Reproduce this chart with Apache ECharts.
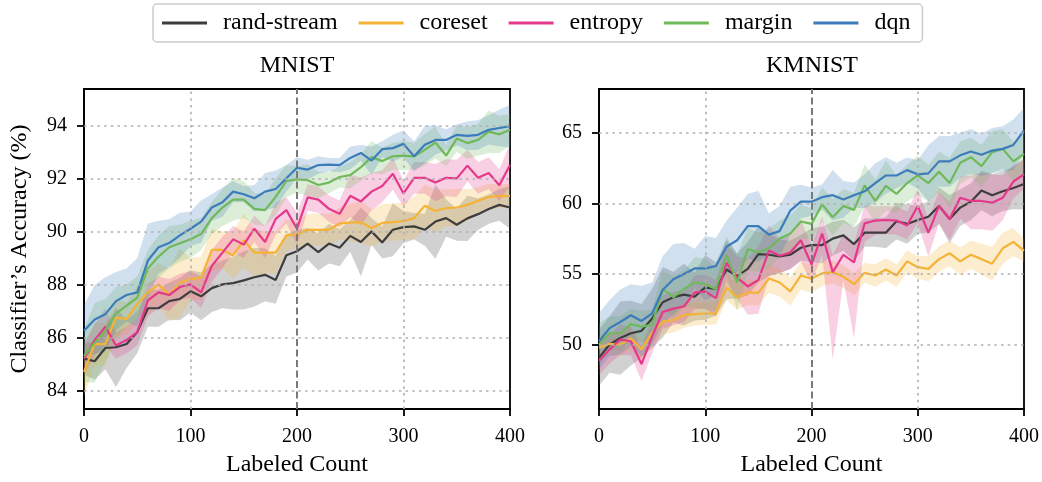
<!DOCTYPE html>
<html>
<head>
<meta charset="utf-8">
<script src="https://cdn.jsdelivr.net/npm/echarts@6/dist/echarts.min.js"></script>
<style>
  html, body { margin: 0; padding: 0; background: #fff; }
  #chart { width: 1042px; height: 482px; }
</style>
</head>
<body>
<div id="chart"></div>
<script>
// x positions (labeled count)
const labeledCount = [0,10,20,30,40,50,60,70,80,90,100,110,120,130,140,150,160,170,180,190,200,
  210,220,230,240,250,260,270,280,290,300,310,320,330,340,350,360,370,380,390,400];
const methods = ['rand-stream', 'coreset', 'entropy', 'margin', 'dqn'];
const xTicks = [0, 100, 200, 300, 400];
const mnistTicks = [84, 86, 88, 90, 92, 94];
const kmnistTicks = [50, 55, 60, 65];

// MNIST means
const mnistRand = [85.2,85.1,85.6,85.63,85.75,86.2,87.1,87.1,87.37,87.45,87.74,87.55,87.86,88.0,88.05,88.15,88.27,88.36,88.17,89.1,89.25,
  89.54,89.22,89.54,89.38,89.83,89.6,90.0,89.58,90.06,90.16,90.19,90.06,90.37,90.5,90.25,90.49,90.65,90.84,91.0,90.9];
const mnistCoreset = [84.7,85.75,85.75,86.75,86.7,87.25,87.7,88.0,87.6,88.05,88.2,88.25,89.3,89.3,89.1,89.66,89.2,89.2,89.2,89.85,89.88,
  90.06,90.06,90.06,90.3,90.33,90.35,90.13,90.32,90.35,90.39,90.5,90.97,90.77,90.88,90.9,91.0,91.15,91.3,91.33,91.34];
const mnistEntropy = [85.2,85.9,86.4,85.7,85.9,86.2,87.4,87.7,87.6,87.9,88.0,87.7,88.7,89.2,89.7,89.5,90.1,89.6,90.47,90.8,90.1,
  91.28,91.2,90.85,90.66,91.34,91.13,91.5,91.71,92.17,91.43,92.02,92.02,91.84,92.02,92.0,92.48,92.02,92.2,91.74,92.5];
const mnistMargin = [85.3,85.8,86.25,86.9,87.2,87.5,88.6,89.05,89.4,89.55,89.7,89.9,90.5,90.9,91.2,91.2,90.85,90.8,91.3,91.9,91.96,
  91.93,91.75,91.84,92.05,92.12,92.42,92.8,92.65,92.83,92.86,92.83,93.08,93.35,92.86,93.5,93.33,93.45,93.76,93.66,93.83];
const mnistDqn = [86.25,86.68,86.87,87.37,87.6,87.7,88.9,89.4,89.56,89.85,90.1,90.37,90.9,91.1,91.5,91.4,91.25,91.5,91.6,92.0,92.4,
  92.33,92.5,92.52,92.5,92.77,92.96,92.67,93.1,93.14,93.3,92.83,93.27,93.45,93.45,93.64,93.6,93.64,93.83,93.9,93.97];

// MNIST spreads
const mnistRandSd = [0.6,0.7,0.8,1.5,0.9,0.8,0.7,0.7,0.7,0.8,0.8,0.9,0.9,0.9,1.0,1.1,1.1,1.0,0.9,0.8,0.8,
  0.6,0.7,0.75,0.7,0.6,1.3,0.5,0.6,1.0,0.6,0.5,0.6,1.4,0.7,0.6,0.85,0.6,0.55,0.6,0.8];
const mnistCoresetSd = [0.9,0.8,0.8,0.7,0.6,0.7,0.8,0.8,1.0,1.3,0.8,0.8,0.8,0.7,0.9,1.0,0.9,0.8,0.8,0.6,0.5,
  0.6,0.6,0.6,0.6,0.7,0.8,0.7,0.7,0.7,0.7,0.8,0.8,0.8,0.7,0.7,0.6,0.5,0.5,0.45,0.45];
const mnistEntropySd = [0.6,0.6,0.7,0.5,0.5,0.5,0.6,0.6,0.6,0.5,0.5,0.6,0.6,0.6,0.5,0.5,0.5,0.6,0.6,0.5,0.6,
  0.5,0.5,0.5,0.5,0.8,0.9,0.7,0.6,0.6,0.5,0.6,0.6,0.7,0.7,0.7,0.6,0.6,0.6,0.6,0.8];
const mnistMarginSd = [1.0,1.5,1.2,1.0,0.8,0.8,0.7,0.8,0.8,0.7,0.7,0.6,0.6,0.7,0.8,0.7,0.6,0.6,0.7,0.6,0.5,
  0.6,0.5,0.4,0.4,0.5,0.5,0.6,0.5,0.5,0.55,0.5,0.6,0.6,0.4,0.5,0.6,0.6,0.8,0.7,0.6];
const mnistDqnSd = [0.95,1.3,1.4,1.1,1.0,1.3,1.4,1.0,0.9,0.85,0.65,0.8,0.5,0.55,0.4,0.3,0.5,0.7,0.7,0.5,0.4,
  0.37,0.33,0.25,0.27,0.43,0.3,0.53,0.3,0.5,0.5,0.57,0.7,0.55,0.4,0.4,0.54,0.56,0.55,0.7,0.8];

// KMNIST means
const kmnistRand = [49.07,50.0,50.46,50.8,50.97,51.85,53.0,53.36,53.54,53.4,54.05,53.94,55.32,54.86,55.37,56.41,56.37,56.25,56.37,56.87,57.06,
  57.06,57.52,57.75,57.13,57.94,57.94,57.94,58.75,58.56,58.84,59.07,59.84,58.91,59.72,60.14,60.93,60.6,60.88,61.11,61.39];
const kmnistCoreset = [49.77,50.05,50.0,50.42,49.65,50.8,51.62,51.74,52.08,52.15,52.2,52.2,54.05,53.36,53.7,53.66,54.68,54.4,53.77,54.9,54.68,
  55.05,55.14,54.81,54.28,55.09,54.9,55.32,54.9,55.9,55.49,55.37,56.06,56.48,55.9,56.37,56.06,55.74,56.83,57.29,56.67];
const kmnistEntropy = [48.84,49.65,50.35,50.23,48.61,50.58,52.31,52.55,52.7,53.7,53.75,53.29,55.79,54.75,54.12,54.58,56.67,56.3,56.53,57.4,55.67,
  57.87,55.14,56.37,55.83,58.6,58.8,58.84,58.8,58.45,59.84,57.92,59.84,58.91,60.42,60.19,60.19,60.07,60.42,61.57,62.08];
const kmnistMargin = [50.0,50.8,50.8,51.44,51.27,51.4,53.94,53.36,53.94,54.4,54.28,53.94,56.37,54.4,56.76,56.55,56.83,57.52,57.87,58.73,58.56,
  59.95,59.03,59.84,59.56,61.3,60.19,61.27,60.69,61.46,62.0,61.46,62.27,61.46,62.9,63.3,62.66,63.66,63.89,63.0,63.54];
const kmnistDqn = [50.23,51.16,51.6,52.08,51.67,52.2,53.89,54.63,55.0,55.4,55.4,55.56,56.94,57.4,58.4,58.4,57.8,58.05,59.5,60.14,60.14,
  60.46,60.6,60.3,60.6,60.88,61.46,62.0,62.0,62.38,62.08,62.15,63.0,63.0,63.43,63.7,63.47,63.77,63.89,64.17,65.2];

// KMNIST spreads
const kmnistRandSd = [2.0,2.0,2.6,2.3,1.9,2.1,2.5,1.8,2.2,1.7,2.3,1.9,2.1,1.6,1.9,2.0,1.5,1.2,1.0,0.9,1.2,
  1.3,1.2,1.1,1.2,1.0,1.0,1.1,1.3,1.4,1.0,1.1,1.3,1.7,1.3,1.3,1.4,1.5,1.4,1.5,1.8];
const kmnistCoresetSd = [0.8,0.8,0.8,0.8,0.8,0.8,0.9,0.9,0.9,0.8,0.8,0.8,0.9,0.9,0.9,0.9,1.0,1.0,1.0,1.0,1.0,
  0.9,0.8,0.8,0.8,0.7,0.8,0.8,0.8,0.8,0.8,0.9,0.9,0.9,1.0,1.0,1.1,1.2,1.1,1.0,0.8];
const kmnistEntropySd = [1.0,1.0,1.1,1.0,1.2,1.2,1.2,1.2,1.1,1.2,1.2,1.3,1.3,1.5,2.0,2.4,1.8,1.2,1.2,1.5,1.3,
  1.2,1.2,1.5,1.3,1.3,1.0,1.0,1.0,1.0,1.2,1.0,1.0,1.2,1.5,1.8,2.0,2.0,1.6,1.2,1.0];
const kmnistEntropySdLow = [1.0,1.0,1.1,1.0,1.2,1.2,1.2,1.2,1.1,1.2,1.2,1.3,1.3,1.5,2.0,2.4,1.8,1.2,1.2,1.5,1.3,
  1.5,6.2,1.8,5.4,1.3,1.0,1.0,1.0,1.0,1.2,1.7,1.2,1.5,1.5,2.0,2.0,2.0,1.6,1.2,1.0];
const kmnistMarginSd = [1.5,1.2,1.2,1.1,1.1,1.1,1.3,1.5,1.3,1.8,1.8,1.5,1.3,2.0,1.5,1.4,1.4,1.3,1.3,1.2,1.1,
  1.2,1.3,1.2,1.2,1.5,1.5,1.8,1.3,1.3,1.4,1.3,1.4,1.8,1.5,1.4,1.5,1.5,1.4,1.4,1.5];
const kmnistDqnSd = [2.0,2.0,2.3,2.2,2.5,2.2,2.4,2.5,2.2,1.4,2.3,2.0,1.85,2.3,2.3,2.5,1.5,1.8,1.7,1.2,1.0,
  0.9,1.8,1.3,0.9,1.2,1.4,1.3,0.9,0.9,1.0,2.0,1.8,1.8,1.6,1.6,1.5,1.6,1.6,1.8,1.6];

const colors = ['#3d3d3d', '#f5b336', '#e6388b', '#70b95a', '#3c7cba'];
const FONT = 'Liberation Serif';

const panels = [
  {
    title: 'MNIST', left: 84, ticks: mnistTicks, min: 83.3, max: 95.37,
    means: [mnistRand, mnistCoreset, mnistEntropy, mnistMargin, mnistDqn],
    up: [mnistRandSd, mnistCoresetSd, mnistEntropySd, mnistMarginSd, mnistDqnSd],
    down: [mnistRandSd, mnistCoresetSd, mnistEntropySd, mnistMarginSd, mnistDqnSd]
  },
  {
    title: 'KMNIST', left: 599, ticks: kmnistTicks, min: 45.42, max: 68.14,
    means: [kmnistRand, kmnistCoreset, kmnistEntropy, kmnistMargin, kmnistDqn],
    up: [kmnistRandSd, kmnistCoresetSd, kmnistEntropySd, kmnistMarginSd, kmnistDqnSd],
    down: [kmnistRandSd, kmnistCoresetSd, kmnistEntropySdLow, kmnistMarginSd, kmnistDqnSd]
  }
];

const plotW = 426, plotTop = 89, plotH = 326;

function hexA(hex, a) {
  const n = parseInt(hex.slice(1), 16);
  return 'rgba(' + (n >> 16) + ',' + ((n >> 8) & 255) + ',' + (n & 255) + ',' + a + ')';
}

// shaded band: one polygon through the axis scales
function bandSeries(g, name, color, mean, up, down) {
  return {
    type: 'custom', name: name + ' band', xAxisIndex: g, yAxisIndex: g, z: 1, silent: true,
    data: labeledCount.map((x, i) => [x, mean[i] - down[i], mean[i] + up[i]]),
    encode: { x: 0, y: [1, 2] },
    renderItem: function (params, api) {
      if (params.dataIndexInside !== 0) return null;
      const n = params.dataInsideLength;
      const pts = [];
      for (let i = 0; i < n; i++) pts.push(api.coord([api.value(0, i), api.value(2, i)]));
      for (let i = n - 1; i >= 0; i--) pts.push(api.coord([api.value(0, i), api.value(1, i)]));
      return { type: 'polygon', shape: { points: pts }, style: { fill: hexA(color, 0.24) } };
    }
  };
}

const grids = [], xAxes = [], yAxes = [], series = [], graphics = [];

panels.forEach((p, g) => {
  grids.push({ left: p.left, top: plotTop, width: plotW, height: plotH, show: true,
    borderColor: '#000', borderWidth: 1.8, backgroundColor: '#fff' });

  xAxes.push({
    type: 'value', gridIndex: g, min: 0, max: 400, interval: 100,
    axisLine: { show: true, lineStyle: { color: '#000', width: 1.8 } },
    axisTick: { show: true, inside: false, length: 7, lineStyle: { color: '#000', width: 1.8 } },
    axisLabel: { fontFamily: FONT, fontSize: 20, color: '#000', margin: 18 },
    splitLine: { show: false },
    name: 'Labeled Count', nameLocation: 'middle', nameGap: 44,
    nameTextStyle: { fontFamily: FONT, fontSize: 24, color: '#000' }
  });

  const ya = {
    type: 'value', gridIndex: g, min: p.min, max: p.max,
    axisLine: { show: true, lineStyle: { color: '#000', width: 1.8 } },
    axisTick: { show: true, inside: false, length: 7, customValues: p.ticks, lineStyle: { color: '#000', width: 1.8 } },
    axisLabel: { fontFamily: FONT, fontSize: 20, color: '#000', margin: 17, customValues: p.ticks },
    splitLine: { show: false }
  };
  if (g === 0) {
    ya.name = 'Classifier\u2019s Accuracy (%)';
    ya.nameLocation = 'middle';
    ya.nameGap = 52;
    ya.nameRotate = 90;
    ya.nameTextStyle = { fontFamily: FONT, fontSize: 24, color: '#000' };
  }
  yAxes.push(ya);

  // bands
  methods.forEach((m, k) => {
    series.push(bandSeries(g, m, colors[k], p.means[k], p.up[k], p.down[k]));
  });

  // grid lines + dashed marker at 200
  const grid = { type: [2.5, 4.2], color: '#b0b0b0', width: 1.6 };
  const lines = [];
  p.ticks.forEach(v => lines.push({ yAxis: v, lineStyle: grid }));
  xTicks.filter(v => v > 0 && v < 400 && v !== 200).forEach(v => lines.push({ xAxis: v, lineStyle: grid }));
  lines.push({ xAxis: 200, lineStyle: { type: [7, 3.5], color: '#7a7a7a', width: 2 } });
  series.push({
    type: 'line', name: 'grid' + g, xAxisIndex: g, yAxisIndex: g, z: 2, silent: true,
    data: [], showSymbol: false,
    markLine: { silent: true, symbol: 'none', animation: false, label: { show: false }, data: lines }
  });

  // mean lines
  methods.forEach((m, k) => {
    series.push({
      type: 'line', name: m, xAxisIndex: g, yAxisIndex: g, z: 3, silent: true,
      data: labeledCount.map((x, i) => [x, p.means[k][i]]),
      showSymbol: false, symbol: 'none',
      lineStyle: { width: 2.2, color: colors[k] }, itemStyle: { color: colors[k] }
    });
  });

  graphics.push({
    type: 'text', x: p.left + plotW / 2, y: 66,
    style: { text: p.title, fontFamily: FONT, fontSize: 24, fill: '#000', textAlign: 'center', textVerticalAlign: 'middle' }
  });
});

const chart = echarts.init(document.getElementById('chart'));
chart.setOption({
  animation: false,
  backgroundColor: '#fff',
  legend: {
    data: methods, left: 153, top: 4, padding: [7, 12, 7, 9], itemGap: 21,
    itemWidth: 45, itemHeight: 3, icon: 'rect',
    borderColor: '#cccccc', borderWidth: 1.5, borderRadius: 4,
    textStyle: { fontFamily: FONT, fontSize: 24, color: '#000', padding: [0, 0, 0, 11] }
  },
  grid: grids,
  xAxis: xAxes,
  yAxis: yAxes,
  graphic: graphics,
  series: series
});
</script>
</body>
</html>
